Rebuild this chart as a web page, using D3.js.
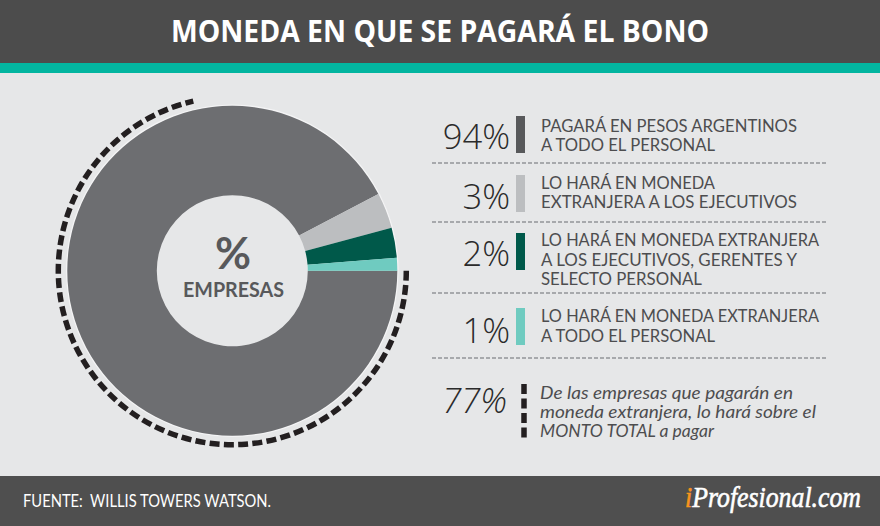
<!DOCTYPE html>
<html><head><meta charset="utf-8">
<script src="https://cdnjs.cloudflare.com/ajax/libs/d3/7.8.5/d3.min.js"></script>
<style>html,body{margin:0;padding:0;background:#e6e7e8}svg{display:block}text{font-family:Lato,sans-serif}</style>
</head><body><svg id="c" width="880" height="526"></svg>
<script>
const title = "MONEDA EN QUE SE PAGARÁ EL BONO";
const source = "FUENTE:  WILLIS TOWERS WATSON.";
const centerSymbol = "%";
const centerLabel = "EMPRESAS";
const sliceNames = ["Pesos", "Ejecutivos", "Ejecutivos, gerentes", "Todo el personal"];
const sliceShares = [92.3, 3.5, 2.95, 1.25];   // as drawn in the picture
const sliceColors = ["#6d6e71", "#bcbec0", "#00594a", "#6fcbc0"];
const swatchColors = ["#58595b", "#bcbec0", "#00594a", "#6fcbc0"];
const percentLabels = ["94%", "3%", "2%", "1%"];
const rowLines = [
  ["PAGARÁ EN PESOS ARGENTINOS", "A TODO EL PERSONAL"],
  ["LO HARÁ EN MONEDA", "EXTRANJERA A LOS EJECUTIVOS"],
  ["LO HARÁ EN MONEDA EXTRANJERA", "A LOS EJECUTIVOS, GERENTES Y", "SELECTO PERSONAL"],
  ["LO HARÁ EN MONEDA EXTRANJERA", "A TODO EL PERSONAL"]
];
const notePercent = "77%";
const noteLines = ["De las empresas que pagarán en", "moneda extranjera, lo hará sobre el", "MONTO TOTAL a pagar"];
const ringShare = [71.4, 28.6];                // dashed arc as drawn

const svg = d3.select("#c");
svg.append("rect").attr("width",880).attr("height",526).attr("fill","#e6e7e8");
svg.append("rect").attr("width",880).attr("height",64).attr("fill","#4c4c4c");
svg.append("rect").attr("y",63).attr("width",880).attr("height",10).attr("fill","#03b5a0");
svg.append("rect").attr("y",476).attr("width",880).attr("height",50).attr("fill","#4f4f4f");
svg.append("text").attr("x",440).attr("y",42).attr("text-anchor","middle").attr("fill","#fff")
  .style("font-family","'Open Sans',sans-serif").attr("font-size",30).attr("font-weight",700)
  .attr("textLength",538).attr("lengthAdjust","spacingAndGlyphs").text(title);

const cx=232.3, cy=270.7, rO=165, rI=75.5, rRing=174;
const g = svg.append("g").attr("transform",`translate(${cx},${cy})`);
const start = Math.PI/2;
const pie = d3.pie().sort(null).value(d=>d).startAngle(start).endAngle(start+2*Math.PI);
const arc = d3.arc().innerRadius(rI).outerRadius(rO);
g.append("circle").attr("r",rO+0.6).attr("fill","none").attr("stroke","#f4f4f5").attr("stroke-width",1.4);
g.selectAll("path.s").data(pie(sliceShares)).join("path").attr("class","s")
  .attr("d",arc).attr("fill",(d,i)=>sliceColors[i]);

const ringSlice = pie(ringShare)[0];
const ringPath = d3.path();
ringPath.arc(0,0,rRing,ringSlice.startAngle-Math.PI/2,ringSlice.endAngle-Math.PI/2,false);
g.append("path").attr("d",ringPath.toString()).attr("fill","none")
  .attr("stroke","#231f20").attr("stroke-width",5.5).attr("stroke-dasharray","10 4.3");

svg.append("text").attr("x",233).attr("y",268.5).attr("text-anchor","middle").attr("fill","#58595b")
  .attr("font-size",44).attr("font-weight",700).text(centerSymbol);
svg.append("text").attr("x",233.5).attr("y",297).attr("text-anchor","middle").attr("fill","#58595b")
  .attr("font-size",20).attr("font-weight",700).attr("textLength",101).attr("lengthAdjust","spacingAndGlyphs").text(centerLabel);

const swatchTop = [116,175,233,308];
const pctBase = [149,209,266,343];
const lineBase = [[132,151],[189,208],[246,266,285],[322,342]];
const lineW = [[256,174],[174,256],[278,256,161],[278,174]];
const pctFont = "'Open Sans',sans-serif";
percentLabels.forEach((p,i)=>{
  svg.append("text").attr("x",510).attr("y",pctBase[i]).attr("text-anchor","end").attr("fill","#2b2b2b")
    .style("font-family",pctFont).attr("font-size",34.5).attr("font-weight",300).text(p);
  svg.append("rect").attr("x",516).attr("y",swatchTop[i]).attr("width",9).attr("height",37).attr("fill",swatchColors[i]);
  rowLines[i].forEach((t,j)=>{
    svg.append("text").attr("x",541).attr("y",lineBase[i][j]).attr("fill","#4d4d4f").attr("font-size",17.5)
      .attr("textLength",lineW[i][j]).attr("lengthAdjust","spacingAndGlyphs").text(t);
  });
});
[163,222,293,358].forEach(y=>{
  svg.append("line").attr("x1",432).attr("x2",828).attr("y1",y).attr("y2",y)
    .attr("stroke","#939598").attr("stroke-width",1.4).attr("stroke-dasharray","4 2");
});
svg.append("text").attr("x",507).attr("y",413).attr("text-anchor","end").attr("fill","#2b2b2b")
  .style("font-family",pctFont).attr("font-size",34.5).attr("font-weight",300).attr("font-style","italic").text(notePercent);
svg.append("line").attr("x1",524).attr("x2",524).attr("y1",384).attr("y2",438)
  .attr("stroke","#231f20").attr("stroke-width",5.5).attr("stroke-dasharray","10 4.5");
const noteBase=[399,418,437], noteW=[253,276,174];
noteLines.forEach((t,j)=>{
  svg.append("text").attr("x",540).attr("y",noteBase[j]).attr("fill","#4d4d4f").attr("font-size",17.5).attr("font-style","italic")
    .attr("textLength",noteW[j]).attr("lengthAdjust","spacingAndGlyphs").text(t);
});

svg.append("text").attr("x",23).attr("y",507).attr("fill","#fff").attr("font-size",17)
  .attr("textLength",248).attr("lengthAdjust","spacingAndGlyphs").style("white-space","pre").text(source);
const logo = svg.append("text").attr("transform","translate(685,507) scale(0.86,1)").attr("font-size",30).attr("font-style","italic")
  .style("font-family","'Liberation Serif',serif").attr("fill","#fff").attr("stroke","#fff").attr("stroke-width",0.6);
logo.append("tspan").attr("fill","#f7941d").attr("stroke","#f7941d").text("i");
logo.append("tspan").text("Profesional.com");
</script></body></html>
